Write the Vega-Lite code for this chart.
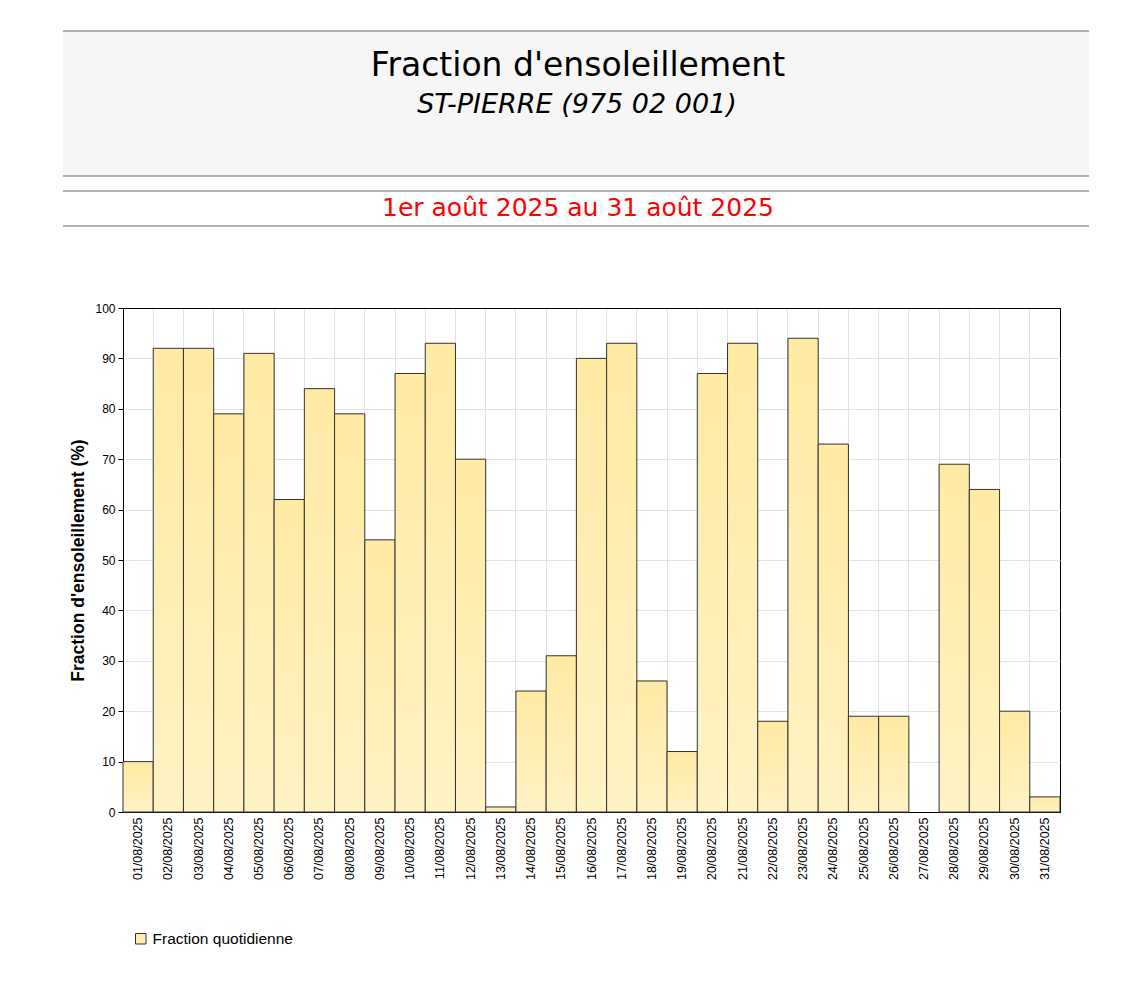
{
  "$schema": "https://vega.github.io/schema/vega-lite/v6.json",
  "background": "white",
  "padding": {"left": 62, "top": 30, "right": 0, "bottom": 0},
  "spacing": 0,
  "config": {
    "view": {"stroke": null},
    "font": "Liberation Sans"
  },
  "datasets": {
    "jours": [
      {"date": "01/08/2025", "fraction": 10, "serie": "Fraction quotidienne"},
      {"date": "02/08/2025", "fraction": 92, "serie": "Fraction quotidienne"},
      {"date": "03/08/2025", "fraction": 92, "serie": "Fraction quotidienne"},
      {"date": "04/08/2025", "fraction": 79, "serie": "Fraction quotidienne"},
      {"date": "05/08/2025", "fraction": 91, "serie": "Fraction quotidienne"},
      {"date": "06/08/2025", "fraction": 62, "serie": "Fraction quotidienne"},
      {"date": "07/08/2025", "fraction": 84, "serie": "Fraction quotidienne"},
      {"date": "08/08/2025", "fraction": 79, "serie": "Fraction quotidienne"},
      {"date": "09/08/2025", "fraction": 54, "serie": "Fraction quotidienne"},
      {"date": "10/08/2025", "fraction": 87, "serie": "Fraction quotidienne"},
      {"date": "11/08/2025", "fraction": 93, "serie": "Fraction quotidienne"},
      {"date": "12/08/2025", "fraction": 70, "serie": "Fraction quotidienne"},
      {"date": "13/08/2025", "fraction": 1, "serie": "Fraction quotidienne"},
      {"date": "14/08/2025", "fraction": 24, "serie": "Fraction quotidienne"},
      {"date": "15/08/2025", "fraction": 31, "serie": "Fraction quotidienne"},
      {"date": "16/08/2025", "fraction": 90, "serie": "Fraction quotidienne"},
      {"date": "17/08/2025", "fraction": 93, "serie": "Fraction quotidienne"},
      {"date": "18/08/2025", "fraction": 26, "serie": "Fraction quotidienne"},
      {"date": "19/08/2025", "fraction": 12, "serie": "Fraction quotidienne"},
      {"date": "20/08/2025", "fraction": 87, "serie": "Fraction quotidienne"},
      {"date": "21/08/2025", "fraction": 93, "serie": "Fraction quotidienne"},
      {"date": "22/08/2025", "fraction": 18, "serie": "Fraction quotidienne"},
      {"date": "23/08/2025", "fraction": 94, "serie": "Fraction quotidienne"},
      {"date": "24/08/2025", "fraction": 73, "serie": "Fraction quotidienne"},
      {"date": "25/08/2025", "fraction": 19, "serie": "Fraction quotidienne"},
      {"date": "26/08/2025", "fraction": 19, "serie": "Fraction quotidienne"},
      {"date": "28/08/2025", "fraction": 69, "serie": "Fraction quotidienne"},
      {"date": "29/08/2025", "fraction": 64, "serie": "Fraction quotidienne"},
      {"date": "30/08/2025", "fraction": 20, "serie": "Fraction quotidienne"},
      {"date": "31/08/2025", "fraction": 3, "serie": "Fraction quotidienne"}
    ]
  },
  "vconcat": [
    {
      "width": 937,
      "height": 270,
      "data": {"values": [{}]},
      "layer": [
        {
          "mark": {"type": "rect", "fill": "#F6F6F6"},
          "encoding": {
            "x": {"datum": -60, "type": "quantitative", "scale": {"domain": [0, 937], "nice": false, "zero": false}, "axis": null},
            "x2": {"datum": 966},
            "y": {"datum": 0, "type": "quantitative", "scale": {"domain": [0, 270], "nice": false, "reverse": true}, "axis": null},
            "y2": {"datum": 145}
          }
        },
        {
          "mark": {"type": "rule", "color": "#666666", "strokeWidth": 1},
          "encoding": {
            "x": {"datum": -60, "type": "quantitative", "scale": {"domain": [0, 937], "nice": false, "zero": false}, "axis": null},
            "x2": {"datum": 966},
            "y": {"datum": 0, "type": "quantitative", "scale": {"domain": [0, 270], "nice": false, "reverse": true}, "axis": null}
          }
        },
        {
          "mark": {"type": "rule", "color": "#666666", "strokeWidth": 1},
          "encoding": {
            "x": {"datum": -60, "type": "quantitative", "scale": {"domain": [0, 937], "nice": false, "zero": false}, "axis": null},
            "x2": {"datum": 966},
            "y": {"datum": 145, "type": "quantitative", "scale": {"domain": [0, 270], "nice": false, "reverse": true}, "axis": null}
          }
        },
        {
          "mark": {"type": "rule", "color": "#666666", "strokeWidth": 1},
          "encoding": {
            "x": {"datum": -60, "type": "quantitative", "scale": {"domain": [0, 937], "nice": false, "zero": false}, "axis": null},
            "x2": {"datum": 966},
            "y": {"datum": 160, "type": "quantitative", "scale": {"domain": [0, 270], "nice": false, "reverse": true}, "axis": null}
          }
        },
        {
          "mark": {"type": "rule", "color": "#666666", "strokeWidth": 1},
          "encoding": {
            "x": {"datum": -60, "type": "quantitative", "scale": {"domain": [0, 937], "nice": false, "zero": false}, "axis": null},
            "x2": {"datum": 966},
            "y": {"datum": 195, "type": "quantitative", "scale": {"domain": [0, 270], "nice": false, "reverse": true}, "axis": null}
          }
        },
        {
          "mark": {"type": "text", "text": "Fraction d'ensoleillement", "font": "DejaVu Sans", "fontSize": 33, "color": "#000000", "align": "center", "baseline": "alphabetic"},
          "encoding": {
            "x": {"datum": 455, "type": "quantitative", "scale": {"domain": [0, 937], "nice": false, "zero": false}, "axis": null},
            "y": {"datum": 45, "type": "quantitative", "scale": {"domain": [0, 270], "nice": false, "reverse": true}, "axis": null}
          }
        },
        {
          "mark": {"type": "text", "text": "ST-PIERRE (975 02 001)", "font": "DejaVu Sans", "fontSize": 27, "fontStyle": "italic", "color": "#000000", "align": "center", "baseline": "alphabetic"},
          "encoding": {
            "x": {"datum": 454, "type": "quantitative", "scale": {"domain": [0, 937], "nice": false, "zero": false}, "axis": null},
            "y": {"datum": 81.5, "type": "quantitative", "scale": {"domain": [0, 270], "nice": false, "reverse": true}, "axis": null}
          }
        },
        {
          "mark": {"type": "text", "text": "1er août 2025 au 31 août 2025", "font": "DejaVu Sans", "fontSize": 25, "color": "#FF0000", "align": "center", "baseline": "alphabetic"},
          "encoding": {
            "x": {"datum": 455, "type": "quantitative", "scale": {"domain": [0, 937], "nice": false, "zero": false}, "axis": null},
            "y": {"datum": 185, "type": "quantitative", "scale": {"domain": [0, 270], "nice": false, "reverse": true}, "axis": null}
          }
        }
      ]
    },
    {
      "width": 937,
      "height": 504,
      "view": {"stroke": "#000000", "strokeWidth": 1},
      "data": {"name": "jours"},
      "encoding": {
        "x": {
          "field": "date",
          "type": "nominal",
          "sort": null,
          "scale": {
            "domain": [
              "01/08/2025", "02/08/2025", "03/08/2025", "04/08/2025", "05/08/2025", "06/08/2025",
              "07/08/2025", "08/08/2025", "09/08/2025", "10/08/2025", "11/08/2025", "12/08/2025",
              "13/08/2025", "14/08/2025", "15/08/2025", "16/08/2025", "17/08/2025", "18/08/2025",
              "19/08/2025", "20/08/2025", "21/08/2025", "22/08/2025", "23/08/2025", "24/08/2025",
              "25/08/2025", "26/08/2025", "27/08/2025", "28/08/2025", "29/08/2025", "30/08/2025",
              "31/08/2025"
            ],
            "paddingInner": 0,
            "paddingOuter": 0
          },
          "axis": {
            "title": null,
            "labelAngle": -90,
            "labelAlign": "right",
            "labelBaseline": "middle",
            "labelFontSize": 12.5,
            "labelColor": "#000000",
            "labelPadding": 5,
            "ticks": false,
            "domain": false,
            "grid": true,
            "bandPosition": 0,
            "gridColor": {"condition": {"test": "datum.value === '01/08/2025'", "value": "#000000"}, "value": "#E2E2E2"},
            "labelFont": "Liberation Sans"
          }
        },
        "y": {
          "field": "fraction",
          "type": "quantitative",
          "scale": {"domain": [0, 100], "nice": false},
          "axis": {
            "title": "Fraction d'ensoleillement (%)",
            "titleFontSize": 17.5,
            "titleFontWeight": "bold",
            "titleColor": "#000000",
            "titlePadding": 7,
            "values": [0, 10, 20, 30, 40, 50, 60, 70, 80, 90, 100],
            "labelFontSize": 12,
            "labelColor": "#000000",
            "labelPadding": 3,
            "tickSize": 5,
            "tickColor": "#000000",
            "domainColor": "#000000",
            "grid": true,
            "gridColor": {"condition": {"test": "datum.value === 0 || datum.value === 100", "value": "#000000"}, "value": "#E2E2E2"}
          }
        }
      },
      "layer": [
        {
          "mark": {
            "type": "bar",
            "stroke": "#333333",
            "strokeWidth": 1,
            "fill": {
              "gradient": "linear",
              "x1": 0, "y1": 0, "x2": 0, "y2": 1,
              "stops": [
                {"offset": 0, "color": "#FFEAA3"},
                {"offset": 1, "color": "#FFF2C4"}
              ]
            }
          }
        },
        {
          "mark": {"type": "square", "opacity": 0},
          "encoding": {
            "color": {
              "field": "serie",
              "type": "nominal",
              "scale": {"range": ["#FFEDAC"]},
              "legend": {
                "title": null,
                "orient": "bottom",
                "direction": "horizontal",
                "symbolType": "square",
                "symbolSize": 110,
                "symbolOpacity": 1,
                "symbolStrokeColor": "#333333",
                "symbolStrokeWidth": 1,
                "labelFontSize": 15.5,
                "labelColor": "#000000",
                "labelFont": "Liberation Sans",
                "offset": 40,
                "padding": 10
              }
            }
          }
        }
      ]
    }
  ]
}
